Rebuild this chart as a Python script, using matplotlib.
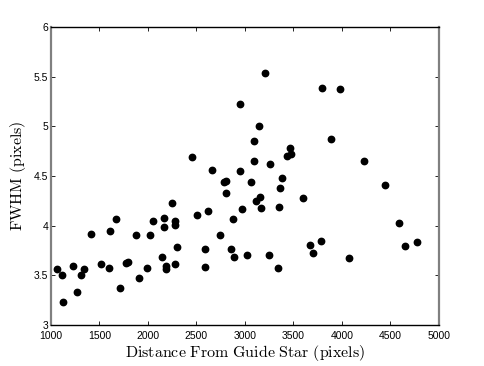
import matplotlib
matplotlib.use("Agg")
import matplotlib.pyplot as plt
from matplotlib.ticker import FixedLocator, FixedFormatter

distance = [1065, 1113, 1120, 1227, 1265, 1313, 1344, 1412, 1519, 1601,
            1608, 1667, 1711, 1773, 1794, 1876, 1904, 1993, 2021, 2048,
            2141, 2165, 2165, 2190, 2185, 2247, 2275, 2275, 2282, 2296,
            2457, 2505, 2584, 2584, 2622, 2660, 2746, 2784, 2801, 2804,
            2852, 2880, 2887, 2948, 2952, 2966, 3021, 3065, 3093, 3093,
            3117, 3148, 3151, 3168, 3210, 3247, 3261, 3337, 3354, 3364,
            3385, 3429, 3464, 3477, 3601, 3673, 3704, 3780, 3794, 3883,
            3979, 4069, 4230, 4440, 4584, 4653, 4773]
fwhm = [3.56, 3.50, 3.23, 3.59, 3.33, 3.50, 3.56, 3.92, 3.61, 3.57,
        3.95, 4.07, 3.37, 3.62, 3.63, 3.91, 3.47, 3.57, 3.91, 4.05,
        3.68, 3.99, 4.08, 3.59, 3.56, 4.23, 4.05, 4.01, 3.61, 3.79,
        4.69, 4.11, 3.77, 3.58, 4.15, 4.56, 3.91, 4.44, 4.45, 4.33,
        3.77, 4.07, 3.68, 4.55, 5.23, 4.17, 3.70, 4.44, 4.85, 4.65,
        4.25, 5.00, 4.29, 4.18, 5.54, 3.70, 4.62, 3.57, 4.19, 4.38,
        4.48, 4.70, 4.78, 4.72, 4.28, 3.81, 3.73, 3.85, 5.39, 4.87,
        5.38, 3.67, 4.65, 4.41, 4.03, 3.80, 3.84]

xticks = [1000, 1500, 2000, 2500, 3000, 3500, 4000, 4500, 5000]
xticklabels = ["1000", "1500", "2000", "2500", "3000", "3500", "4000", "4500", "5000"]
yticks = [3, 3.5, 4, 4.5, 5, 5.5, 6]
yticklabels = ["3", "3.5", "4", "4.5", "5", "5.5", "6"]
xlabel = "Distance From Guide Star (pixels)"
ylabel = "FWHM (pixels)"

plt.rcParams['mathtext.fontset'] = 'cm'
fig = plt.figure(figsize=(4.85, 3.66), dpi=100)
ax = fig.add_axes([0.105, 0.112, 0.8, 0.814])
ax.plot(distance, fwhm, 'o', color='black', markersize=4.6, linestyle='none')
ax.set_xlim(1000, 5000)
ax.set_ylim(3, 6)
ax.xaxis.set_major_locator(FixedLocator(xticks))
ax.xaxis.set_major_formatter(FixedFormatter(xticklabels))
ax.yaxis.set_major_locator(FixedLocator(yticks))
ax.yaxis.set_major_formatter(FixedFormatter(yticklabels))
ax.tick_params(direction='in', length=3, width=0.6, top=True, right=True,
               labelsize=7.5, pad=2)
ax.tick_params(axis='x', pad=4.5)
for lab in ax.get_xticklabels() + ax.get_yticklabels():
    lab.set_fontfamily('Liberation Sans')
for s in ['top', 'bottom']:
    ax.spines[s].set_color('black')
    ax.spines[s].set_linewidth(1.0)
for s in ['left', 'right']:
    ax.spines[s].set_color('#808080')
    ax.spines[s].set_linewidth(1.6)

def tex(s):
    return r'$\mathrm{' + s.replace(' ', r'\ ') + '}$'

ax.set_xlabel(tex(xlabel), fontsize=11.5, labelpad=1)
ax.set_ylabel(tex(ylabel), fontsize=11.5, labelpad=4)
fig.savefig('out.png', dpi=100)
